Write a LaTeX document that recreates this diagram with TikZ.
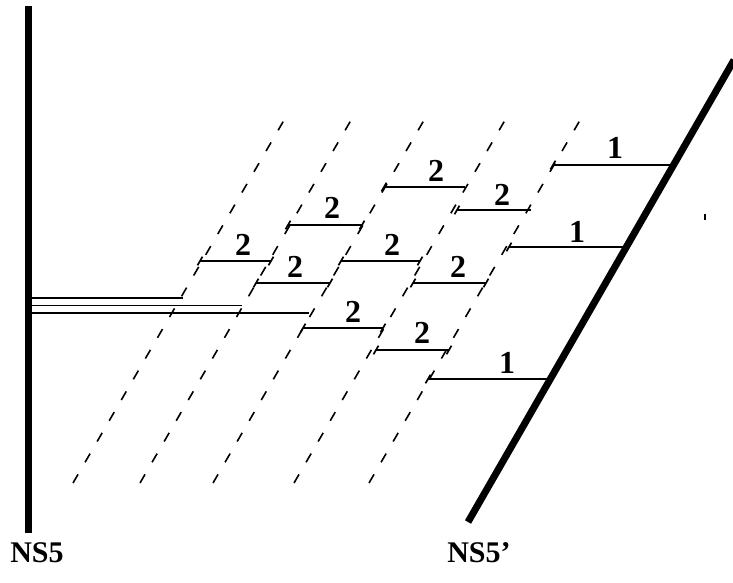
\documentclass[tikz,border=0pt]{standalone}
\usepackage{fontspec}
\setmainfont{Liberation Serif}
\usepackage{tikz}

\begin{document}
\begin{tikzpicture}[x=1pt,y=1pt]
\tikzstyle{every node}+=[inner sep=0pt,font=\fontsize{32}{34}\selectfont\bfseries]
\tikzstyle{ns}=[black,line width=7pt]
\tikzstyle{ghost}=[black,line width=1.6pt,dash pattern=on 10pt off 14pt]
\tikzstyle{dfour}=[black,line width=1.7pt]
\useasboundingbox (0,0) rectangle (733,-582);
% NS5 and NS5'
\draw [ns] (28.5,-6) -- (28.5,-533);
\draw [ns] (468,-522) -- (734,-60);
\draw (37,-553) node [font=\fontsize{30}{32}\selectfont\bfseries] (ns) {NS5};
\draw (479,-553) node [font=\fontsize{30}{32}\selectfont\bfseries] (nsp) {NS5’};
% dashed lines
\draw [ghost] (73,-483) -- (287,-115);
\draw [ghost] (140,-483) -- (354,-115);
\draw [ghost] (213,-483) -- (427,-115);
\draw [ghost] (294,-483) -- (508,-115);
\draw [ghost] (369,-483) -- (583,-115);
% D4s ending on NS5
\draw [dfour] (31,-298) -- (183,-298);
\draw [dfour] (31,-305.5) -- (242,-305.5);
\draw [dfour] (31,-313) -- (309,-313);
% D4s between dashed lines
\draw [dfour] (200,-261) -- (271,-261);
\draw [dfour] (202.5,-256.7) -- (197.5,-265.3);
\draw [dfour] (273.5,-256.7) -- (268.5,-265.3);
\draw (243,-245) node (a) {2};
\draw [dfour] (288,-225) -- (362,-225);
\draw [dfour] (290.5,-220.7) -- (285.5,-229.3);
\draw [dfour] (364.5,-220.7) -- (359.5,-229.3);
\draw (332,-208) node (b) {2};
\draw [dfour] (384,-187) -- (465,-187);
\draw [dfour] (386.5,-182.7) -- (381.5,-191.3);
\draw (436,-171) node (c) {2};
\draw [dfour] (256,-283) -- (330,-283);
\draw [dfour] (258.5,-278.7) -- (253.5,-287.3);
\draw [dfour] (332.5,-278.7) -- (327.5,-287.3);
\draw (295,-267) node (d) {2};
\draw [dfour] (341,-261) -- (420,-261);
\draw [dfour] (343.5,-256.7) -- (338.5,-265.3);
\draw [dfour] (422.5,-256.7) -- (417.5,-265.3);
\draw (392,-245) node (e) {2};
\draw [dfour] (457,-210) -- (531,-210);
\draw [dfour] (459.5,-205.7) -- (454.5,-214.3);
\draw (502,-195) node (f) {2};
\draw [dfour] (303,-328) -- (383,-328);
\draw [dfour] (305.5,-323.7) -- (300.5,-332.3);
\draw [dfour] (385.5,-323.7) -- (380.5,-332.3);
\draw (353,-312) node (g) {2};
\draw [dfour] (413,-283) -- (486,-283);
\draw [dfour] (415.5,-278.7) -- (410.5,-287.3);
\draw [dfour] (488.5,-278.7) -- (483.5,-287.3);
\draw (458,-267) node (h) {2};
\draw [dfour] (376,-350) -- (449,-350);
\draw [dfour] (378.5,-345.7) -- (373.5,-354.3);
\draw [dfour] (451.5,-345.7) -- (446.5,-354.3);
\draw (422,-333) node (i) {2};
% D4s ending on NS5'
\draw [dfour] (553,-165) -- (673,-165);
\draw [dfour] (555.5,-160.7) -- (550.5,-169.3);
\draw (615,-148) node (j) {1};
\draw [dfour] (509,-247) -- (627,-247);
\draw [dfour] (511.5,-242.7) -- (506.5,-251.3);
\draw (577,-232) node (k) {1};
\draw [dfour] (428,-379) -- (550,-379);
\draw [dfour] (430.5,-374.7) -- (425.5,-383.3);
\draw (507,-363) node (l) {1};
\fill [black] (704,-214) rectangle (706,-220);
\end{tikzpicture}
\end{document}
